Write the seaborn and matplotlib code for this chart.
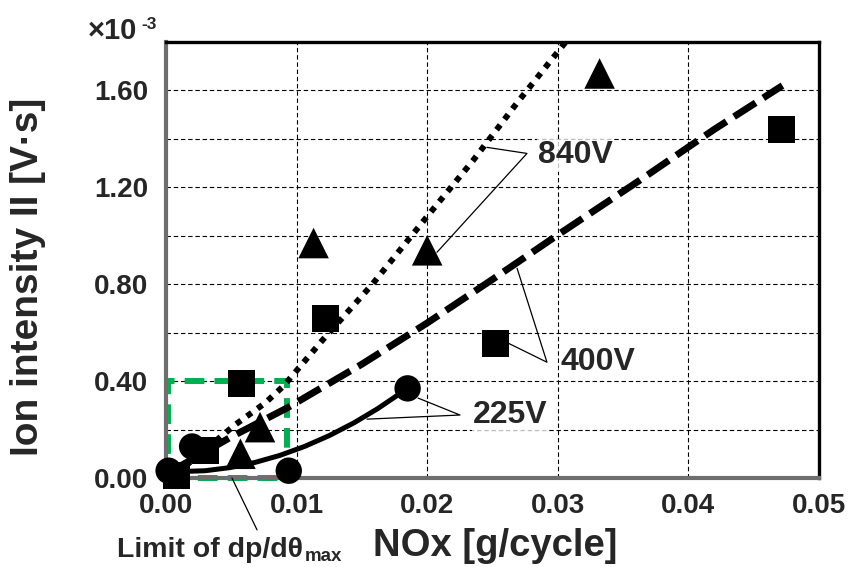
import matplotlib
matplotlib.use("Agg")
import matplotlib.pyplot as plt
from matplotlib.patches import Rectangle
from matplotlib.ticker import FixedLocator
import seaborn as sns

# ---- measured points (NOx in g/cycle, ion intensity in x10^-3 V·s) ----
nox_840 = [0.0057, 0.0072, 0.0113, 0.0200, 0.0332]
ion_840 = [0.10, 0.21, 0.97, 0.94, 1.67]

nox_400 = [0.0008, 0.0030, 0.0058, 0.0122, 0.0252, 0.0471]
ion_400 = [0.01, 0.115, 0.39, 0.66, 0.555, 1.44]

nox_225 = [0.0002, 0.0020, 0.0094, 0.0185]
ion_225 = [0.03, 0.13, 0.03, 0.37]

# ---- trend curves through each voltage group ----
trend_840_x = [0.0015, 0.0053, 0.0076, 0.0090, 0.0120, 0.0158, 0.0200, 0.0235, 0.0269, 0.0306]
trend_840_y = [0.05, 0.22, 0.31, 0.38, 0.57, 0.80, 1.08, 1.31, 1.55, 1.80]

trend_400_x = [0.0008, 0.0050, 0.0093, 0.0150, 0.0200, 0.0250, 0.0299, 0.0363, 0.0420, 0.0472]
trend_400_y = [0.04, 0.17, 0.29, 0.47, 0.64, 0.82, 1.00, 1.23, 1.44, 1.62]

trend_225_x = [0.0002, 0.0030, 0.0049, 0.0068, 0.0087, 0.0106, 0.0125, 0.0144, 0.0162, 0.0185]
trend_225_y = [0.025, 0.030, 0.043, 0.064, 0.093, 0.130, 0.175, 0.228, 0.286, 0.370]

# ---- axis ticks ----
x_ticks = [0.00, 0.01, 0.02, 0.03, 0.04, 0.05]
x_tick_labels = ["0.00", "0.01", "0.02", "0.03", "0.04", "0.05"]
y_ticks = [0.0, 0.4, 0.8, 1.2, 1.6]
y_tick_labels = ["0.00", "0.40", "0.80", "1.20", "1.60"]
y_minor = [0.2, 0.6, 1.0, 1.4]

# region where dp/dθmax limits the measurement
limit_box = (0.0, 0.0, 0.0093, 0.40)

sns.set_style("white")
plt.rcParams["font.family"] = ["Liberation Sans", "DejaVu Sans"]
plt.rcParams["font.weight"] = "bold"

fig = plt.figure(figsize=(8.52, 5.67), dpi=100)
ax = fig.add_axes([166 / 852, 1 - 478 / 567, 653 / 852, 436 / 567])

# trend lines
sns.lineplot(x=trend_840_x, y=trend_840_y, ax=ax, color="black", lw=4.3,
             linestyle=(0, (1.0, 1.2)), sort=False, estimator=None, zorder=3)
sns.lineplot(x=trend_400_x, y=trend_400_y, ax=ax, color="black", lw=5.0,
             linestyle=(0, (3.7, 1.3)), sort=False, estimator=None, zorder=3)
sns.lineplot(x=trend_225_x, y=trend_225_y, ax=ax, color="black", lw=3.6,
             linestyle="-", sort=False, estimator=None, zorder=3)

# measured points
sns.scatterplot(x=nox_840, y=ion_840, ax=ax, marker="^", s=22 ** 2,
                color="black", edgecolor="none", clip_on=False, zorder=4)
sns.scatterplot(x=nox_400, y=ion_400, ax=ax, marker="s", s=19.5 ** 2,
                color="black", edgecolor="none", clip_on=False, zorder=4)
sns.scatterplot(x=nox_225, y=ion_225, ax=ax, marker="o", s=19 ** 2,
                color="black", edgecolor="none", clip_on=False, zorder=4)

ax.set_xlim(0, 0.05)
ax.set_ylim(0, 1.8)

ax.set_xticks(x_ticks)
ax.set_xticklabels(x_tick_labels)
ax.set_yticks(y_ticks)
ax.set_yticklabels(y_tick_labels)
ax.yaxis.set_minor_locator(FixedLocator(y_minor))
ax.tick_params(which="both", length=0, labelsize=20)
ax.tick_params(axis="y", pad=13)
ax.tick_params(axis="x", pad=11)

ax.set_axisbelow(True)
ax.grid(True, which="both", color="black", lw=0.8, linestyle=(0, (4, 2.5)))

for side in ("top", "right"):
    ax.spines[side].set_color("black")
    ax.spines[side].set_linewidth(2.4)
for side in ("left", "bottom"):
    ax.spines[side].set_color("#6e6e6e")
    ax.spines[side].set_linewidth(3.0)

# dashed green box marking the limit region
bx, by, bw, bh = limit_box
ax.add_patch(Rectangle((bx + 0.00015, by), bw - 0.00015, bh, fill=False,
                       edgecolor="#00B050", lw=4.3,
                       linestyle=(0, (3.3, 1.7)), zorder=2, clip_on=False))

# axis titles
ax.set_xlabel("NOx [g/cycle]", fontsize=27.5, fontweight="bold")
ax.xaxis.set_label_coords(0.504, -0.155)
ax.xaxis.label.set_verticalalignment("center")
ax.set_ylabel("Ion intensity II [V·s]", fontsize=28, fontweight="bold")
ax.yaxis.set_label_coords(-0.212, 0.461)
ax.yaxis.label.set_verticalalignment("center")

# exponent marker above the y axis
t_exp = fig.text(88 / 852, 1 - 39 / 567, "×10", fontsize=21,
                 fontweight="bold", ha="left", va="baseline")
ax.annotate("-3", xy=(1, 1), xycoords=t_exp, xytext=(3, 0),
            textcoords="offset points", fontsize=12.5, fontweight="bold",
            ha="left", va="top")

# voltage callouts
box = dict(facecolor="white", edgecolor="none", alpha=0.75, pad=1)
line_kw = dict(color="black", lw=0.9, zorder=5)

ax.plot([0.02458, 0.02764, 0.02075], [1.365, 1.340, 0.932], **line_kw)
ax.text(0.02848, 1.332, "840V", fontsize=23, fontweight="bold",
        ha="left", va="center", bbox=box, zorder=1)

ax.plot([0.02688, 0.02917, 0.02619], [0.866, 0.478, 0.557], **line_kw)
ax.text(0.03017, 0.478, "400V", fontsize=23, fontweight="bold",
        ha="left", va="center", bbox=box, zorder=1)

ax.plot([0.0193, 0.02251, 0.01539], [0.330, 0.260, 0.243], **line_kw)
ax.text(0.02351, 0.260, "225V", fontsize=23, fontweight="bold",
        ha="left", va="center", bbox=box, zorder=1)

# limit label below the axis
ax.plot([0.00505, 0.00697], [0.0, -0.214], color="black", lw=0.9,
        clip_on=False, zorder=5)
t_lim = fig.text(117 / 852, 1 - 557 / 567, "Limit of dp/dθ", fontsize=20.5,
                 fontweight="bold", ha="left", va="baseline")
ax.annotate("max", xy=(1, 0), xycoords=t_lim, xytext=(1, -1.5),
            textcoords="offset points", fontsize=13.5, fontweight="bold",
            ha="left", va="bottom")

fig.savefig("out.png", dpi=100)
